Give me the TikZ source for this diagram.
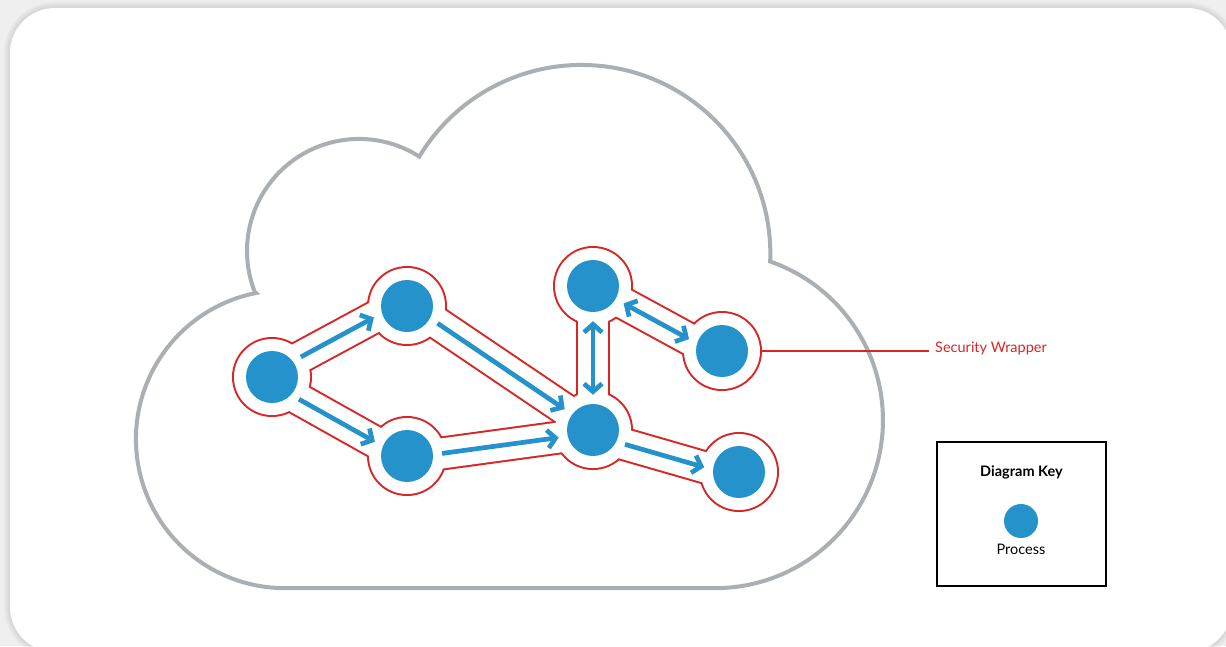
\documentclass[tikz,border=0pt]{standalone}
\usepackage{fontspec}
\setmainfont{Lato}
\usetikzlibrary{arrows.meta,backgrounds}

\definecolor{ccblue}{RGB}{37,146,204}
\definecolor{ccred}{RGB}{214,38,38}
\definecolor{ccgrey}{RGB}{170,175,180}
\definecolor{ccback}{RGB}{239,239,239}

\tikzset{
  process/.style={circle, fill=ccblue, minimum size=52pt, inner sep=0pt},
  flow/.style={line width=4.7pt, ccblue, shorten <=9pt, shorten >=9pt},
  wrapout/.style={line width=34pt, ccred},
  wrapin/.style={line width=30pt, white},
}

\begin{document}
\begin{tikzpicture}[x=1pt, y=-1pt, >={Straight Barb[length=8pt, width=18pt]},
  font=\fontsize{14.5}{17}\selectfont]

  \useasboundingbox (0,0) rectangle (1226,646);
  \clip (0,0) rectangle (1226,646);

  % Processes
  \node[process] (A) at (272,377) {};
  \node[process] (B) at (407,306) {};
  \node[process] (C) at (407,456) {};
  \node[process] (D) at (593,430) {};
  \node[process] (E) at (593,286) {};
  \node[process] (F) at (722,351) {};
  \node[process] (G) at (739,472) {};

  \begin{pgfonlayer}{background}
    % Panel
    \fill[ccback] (0,0) rectangle (1226,646);
    \foreach \w in {12,8,4}
      \draw[black, opacity=0.03, line width=\w pt, rounded corners=45pt] (10,8) rectangle (1232,652);
    \fill[white, rounded corners=45pt] (10,8) rectangle (1232,652);

    % Cloud
    \draw[ccgrey, line width=4pt, fill=white] (256,293)
      arc[start angle=101.2, end angle=270, radius=149pt] -- ++(430,0)
      arc[start angle=-90, end angle=70.8, radius=168pt]
      arc[start angle=-2.3, end angle=149, radius=189pt]
      arc[start angle=57.4, end angle=201.5, radius=112pt] -- cycle;

    % Security wrapper
    \foreach \n in {A,...,G}
      \fill[ccred] (\n) circle[radius=40pt];
    \foreach \s/\t in {A.37/B.196, A.-43/C.158, B.-28/D.143, C.3/D.194, D.-27/G.175, E.-30/F.163, E.-90/D.90}
      \draw[wrapout] (\s) -- (\t);
    \foreach \n in {A,...,G}
      \fill[white] (\n) circle[radius=38pt];
    \foreach \s/\t in {A.37/B.196, A.-43/C.158, B.-28/D.143, C.3/D.194, D.-27/G.175, E.-30/F.163, E.-90/D.90}
      \draw[wrapin] (\s) -- (\t);
  \end{pgfonlayer}

  % Flows
  \draw[flow, ->] (A.37) -- (B.196);
  \draw[flow, ->] (A.-43) -- (C.158);
  \draw[flow, ->] (B.-28) -- (D.143);
  \draw[flow, ->] (C.3) -- (D.194);
  \draw[flow, ->] (D.-27) -- (G.175);
  \draw[flow, <->] (E.-30) -- (F.163);
  \draw[flow, <->] (E.-90) -- (D.90);

  % Wrapper label
  \coordinate (Fwrap) at ([xshift=13pt]F.east);
  \node[ccred, anchor=west, inner sep=6pt] (wraplabel) at (929,348) {Security Wrapper};
  \draw[ccred, line width=1.2pt] (Fwrap) -- (Fwrap -| wraplabel.west);

  % Key
  \node[draw=black, line width=2.5pt, minimum width=169pt, minimum height=144pt, inner sep=0pt] (key) at (1021.5,514) {};
  \node[font=\fontsize{14.5}{17}\selectfont\bfseries] (keytitle) at (1021.5,472) {Diagram Key};
  \node[process, minimum size=34pt] (keyproc) at (1021,521) {};
  \node (keylabel) at (1021,549) {Process};

\end{tikzpicture}
\end{document}
